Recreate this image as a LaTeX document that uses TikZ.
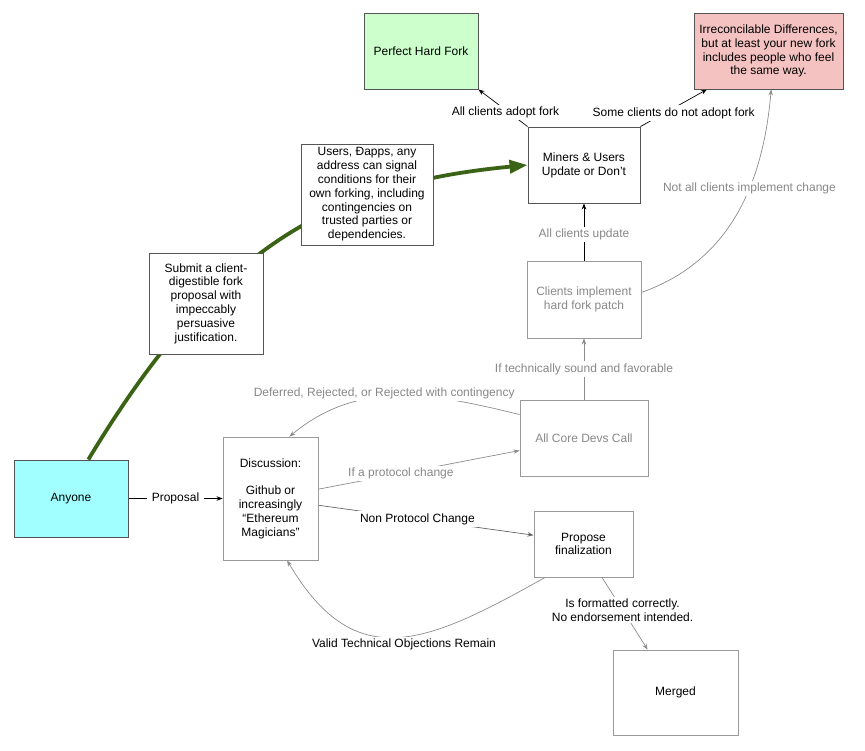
\documentclass[tikz,border=0pt]{standalone}
\usepackage{fontspec}
\setmainfont{Liberation Sans}
\usetikzlibrary{arrows.meta,backgrounds}
\definecolor{boxline}{HTML}{555555}
\definecolor{lightline}{HTML}{9A9A9A}
\definecolor{grayline}{HTML}{8C8C8C}
\definecolor{darkline}{HTML}{666666}
\definecolor{graytext}{HTML}{888888}
\definecolor{cyanfill}{HTML}{A2FFFF}
\definecolor{greenfill}{HTML}{CCFFCC}
\definecolor{pinkfill}{HTML}{F4C3C1}
\definecolor{forkgreen}{HTML}{3A6316}
\begin{document}
\begin{tikzpicture}[x=1pt,y=-1pt,
  font=\fontsize{12}{13.8}\selectfont,
  box/.style={draw=boxline, line width=0.9pt, fill=white, align=center, inner sep=1pt},
  lightbox/.style={box, draw=lightline},
  lbl/.style={fill=white, inner xsep=4.5pt, inner ysep=2pt, align=center},
  glbl/.style={lbl, text=graytext},
  conn/.style={line width=0.7pt, -{Stealth[length=6pt,width=4.5pt]}},
  blackconn/.style={conn, draw=black},
  grayconn/.style={conn, draw=grayline},
  forkconn/.style={draw=forkgreen, line width=3.8pt, -{Triangle[length=18pt,width=13pt]}}
]
\useasboundingbox (0,0) rectangle (865,750);

\node[box, fill=cyanfill, minimum width=114pt, minimum height=77pt] (anyone) at (71,498.5) {Anyone};
\node[lightbox, minimum width=95pt, minimum height=123pt] (discussion) at (270.5,498.5)
  {Discussion:\\[13.8pt]Github or\\increasingly\\“Ethereum\\Magicians"};
\node[box, minimum width=114pt, minimum height=101pt] (submit) at (206,303.5)
  {Submit a client-\\digestible fork\\proposal with\\impeccably\\persuasive\\justification.};
\node[box, minimum width=132pt, minimum height=101pt] (users) at (367,194.5)
  {Users, Đapps, any\\address can signal\\conditions for their\\own forking, including\\contingencies on\\trusted parties or\\dependencies.};
\node[box, minimum width=112pt, minimum height=76pt] (miners) at (584,165) {Miners \& Users\\Update or Don't};
\node[box, fill=greenfill, minimum width=114pt, minimum height=76pt] (perfect) at (421,51) {Perfect Hard Fork};
\node[box, fill=pinkfill, minimum width=149pt, minimum height=76pt] (irr) at (768.5,51)
  {Irreconcilable Differences,\\but at least your new fork\\includes people who feel\\the same way.};
\node[lightbox, text=graytext, minimum width=114pt, minimum height=77pt] (clients) at (584,299.5)
  {Clients implement\\hard fork patch};
\node[lightbox, text=graytext, minimum width=128pt, minimum height=76pt] (core) at (584,438) {All Core Devs Call};
\node[lightbox, minimum width=99pt, minimum height=66pt] (propose) at (583.5,544) {Propose\\finalization};
\node[lightbox, minimum width=125pt, minimum height=85pt] (merged) at (675.5,692.5) {Merged};

\begin{pgfonlayer}{background}
\draw[forkconn] (anyone.66) .. controls (217,246) and (329,184) .. (miners.west);
\draw[blackconn] (anyone.east) -- node[lbl, pos=0.5] {Proposal} (discussion.west);
\draw[blackconn] (miners.north west) -- node[lbl, pos=0.45, yshift=-3pt] {All clients adopt fork} (perfect.south east);
\draw[blackconn] (miners.north east) -- node[lbl, pos=0.5, yshift=-5pt] {Some clients do not adopt fork} (irr.212);
\draw[blackconn] (clients.north) -- node[glbl, pos=0.45] {All clients update} (miners.south);
\draw[grayconn] (clients.7) .. controls (730,261) and (763,184) .. node[glbl, pos=0.62] {Not all clients implement change} (irr.-86);
\draw[grayconn] (core.north) -- node[glbl, pos=0.5] {If technically sound and favorable} (clients.south);
\draw[grayconn] (core.160) .. controls (432,393) and (359,379) .. node[glbl, pos=0.56, yshift=3pt] {Deferred, Rejected, or Rejected with contingency} (discussion.73);
\draw[grayconn] (discussion.11) -- node[glbl, pos=0.41] {If a protocol change} (core.191);
\draw[conn, draw=darkline] (discussion.-8) -- node[lbl, pos=0.46] {Non Protocol Change} (propose.170);
\draw[grayconn] (propose.221) .. controls (425,645) and (355,675) .. node[lbl, pos=0.47, yshift=-8pt] {Valid Technical Objections Remain} (discussion.-75);
\draw[grayconn] (propose.-61) -- node[lbl, pos=0.45] {Is formatted correctly.\\No endorsement intended.} (merged.123);
\end{pgfonlayer}
\end{tikzpicture}
\end{document}
